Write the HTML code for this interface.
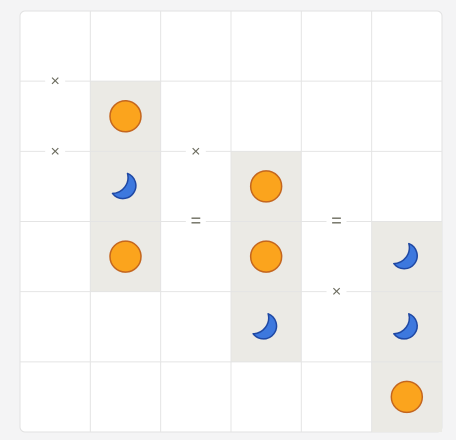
<!DOCTYPE html>
<html><head><meta charset="utf-8"><style>
html,body{margin:0;padding:0;background:#f4f4f5;width:456px;height:440px;overflow:hidden;font-family:"Liberation Sans",sans-serif}
</style></head><body>
<svg width="456" height="440">
<rect x="20" y="11" width="422" height="421" rx="5" fill="#fff" stroke="#e2e2e2"/>
<g id="cells"></g><g id="lines"></g><g id="marks"></g>
</svg>
<script>
const N=6, X0=20, Y0=11, CW=70.33, CH=70.17;
const filled=[[1,1],[1,2],[1,3],[3,2],[3,3],[3,4],[5,3],[5,4],[5,5]];
const icons=[[1,1,'sun'],[1,2,'moon'],[1,3,'sun'],[3,2,'sun'],[3,3,'sun'],[3,4,'moon'],[5,3,'moon'],[5,4,'moon'],[5,5,'sun']];
const signs=[[0,1,'×'],[0,2,'×'],[2,2,'×'],[2,3,'='],[4,3,'='],[4,4,'×']];
const ns='http://www.w3.org/2000/svg';
function mk(t,a,p){const e=document.createElementNS(ns,t);for(const k in a)e.setAttribute(k,a[k]);p.appendChild(e);return e;}
const cg=document.getElementById('cells'),lg=document.getElementById('lines'),mg=document.getElementById('marks');
filled.forEach(([c,r])=>{const e=mk('rect',{x:X0+c*CW,y:Y0+r*CH,width:CW,height:CH,fill:'#ebeae5'},cg);

});
for(let i=1;i<N;i++){mk('line',{x1:X0+i*CW,y1:Y0,x2:X0+i*CW,y2:Y0+N*CH,stroke:'#e4e4e4','stroke-width':1},lg);
mk('line',{x1:X0,y1:Y0+i*CH,x2:X0+N*CW,y2:Y0+i*CH,stroke:'#e4e4e4','stroke-width':1},lg);}
icons.forEach(([c,r,t])=>{const cx=X0+(c+.5)*CW,cy=Y0+(r+.5)*CH;let e;
if(t==='sun'){e=mk('circle',{cx:cx,cy:cy,r:15.5,fill:'#fba41d',stroke:'#c4661e','stroke-width':1.5},mg);}
else{e=mk('path',{d:`M${cx+2},${cy-13} A13,13 0 1 1 ${cx-13},${cy+7} A16,16 0 0 0 ${cx+2},${cy-13} Z`,fill:'#3d78de',stroke:'#1f48a3','stroke-width':1.5,'stroke-linejoin':'round'},mg);}

});
signs.forEach(([c,r,s])=>{const cx=X0+(c+.5)*CW,cy=Y0+r*CH;
mk('rect',{x:cx-10,y:cy-9,width:20,height:18,fill:'#fff'},mg);
const t=mk('text',{x:cx,y:cy+5,'text-anchor':'middle','font-size':s==='='?'18':'16',fill:'#6b6b5e','font-family':'Liberation Sans, sans-serif'},mg);
t.textContent=s;

});
</script>
</body></html>
